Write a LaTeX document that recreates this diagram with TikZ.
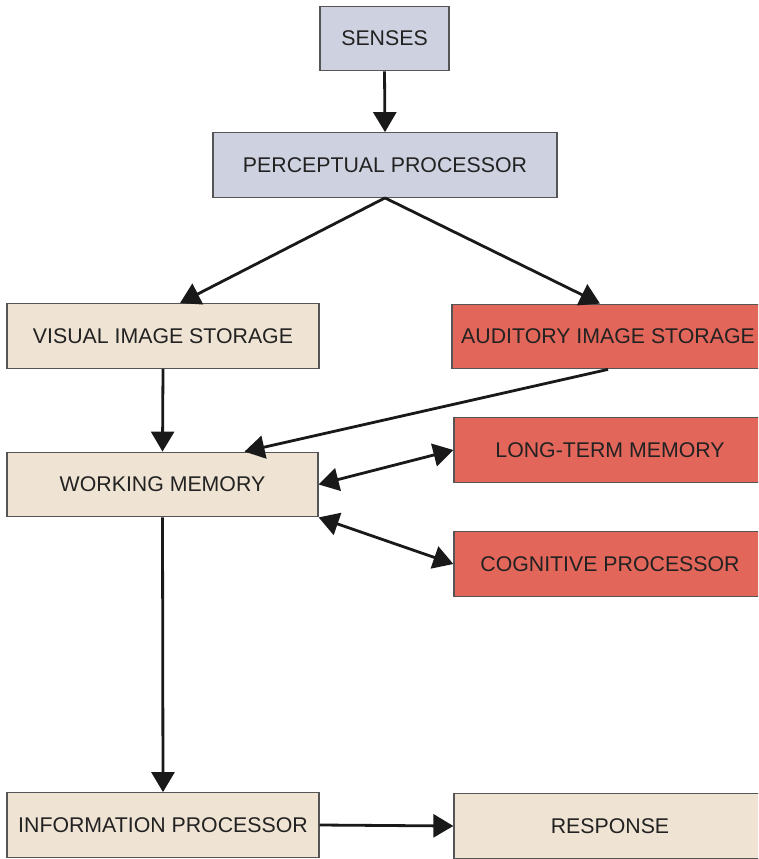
\documentclass[tikz,border=0pt]{standalone}
\usepackage{fontspec}
\setmainfont{Liberation Sans}
\usetikzlibrary{arrows.meta}
\definecolor{bluegrey}{HTML}{CED1DF}
\definecolor{beige}{HTML}{EFE3D3}
\definecolor{redbox}{HTML}{E3665A}
\definecolor{edge}{HTML}{555555}
\definecolor{txt}{HTML}{222222}
\tikzset{
  bx/.style={draw=edge, line width=1.3pt, rectangle, minimum height=64.5pt,
    inner sep=0pt, text=txt, font=\fontsize{21.3}{25}\selectfont},
  bluebox/.style={bx, fill=bluegrey},
  beigebox/.style={bx, fill=beige, minimum width=312pt},
  redbx/.style={bx, fill=redbox, minimum width=312pt},
  arr/.style={line width=2.8pt, draw=black!90,
    -{Triangle[length=20pt,width=23pt]}},
  darr/.style={line width=2.8pt, draw=black!90,
    {Triangle[length=20pt,width=23pt]}-{Triangle[length=20pt,width=23pt]}}
}
\begin{document}
\begin{tikzpicture}[x=1pt,y=-1pt]
\useasboundingbox (0,0) rectangle (758,859);
\clip (0,0) rectangle (758,859);
\fill[white] (0,0) rectangle (758,859);
\node[bluebox, minimum width=129pt] (senses) at (384.5,38.5) {SENSES};
\node[bluebox, minimum width=344pt] (perc) at (385,165) {PERCEPTUAL PROCESSOR};
\node[beigebox] (vis) at (163,336) {VISUAL IMAGE STORAGE};
\node[redbx] (aud) at (608,336.5) {AUDITORY IMAGE STORAGE};
\node[beigebox, minimum width=311pt] (work) at (162.5,484.5) {WORKING MEMORY};
\node[redbx] (ltm) at (610,450) {LONG-TERM MEMORY};
\node[redbx] (cog) at (610,564) {COGNITIVE PROCESSOR};
\node[beigebox] (info) at (163,825) {INFORMATION PROCESSOR};
\node[redbx, fill=beige] (resp) at (610,826) {RESPONSE};
\draw[arr] (senses.south) -- (perc.north);
\draw[arr] (perc.south) -- ([xshift=17pt]vis.north);
\draw[arr] (perc.south) -- ([xshift=-8pt]aud.north);
\draw[arr] (vis.south) -- (work.north);
\draw[arr] (aud.south) -- ([xshift=82pt]work.north);
\draw[darr] (work.east) -- (ltm.west);
\draw[darr] (work.south east) -- (cog.west);
\draw[arr] (work.south) -- (info.north);
\draw[arr] (info.east) -- (resp.west);
\end{tikzpicture}
\end{document}
